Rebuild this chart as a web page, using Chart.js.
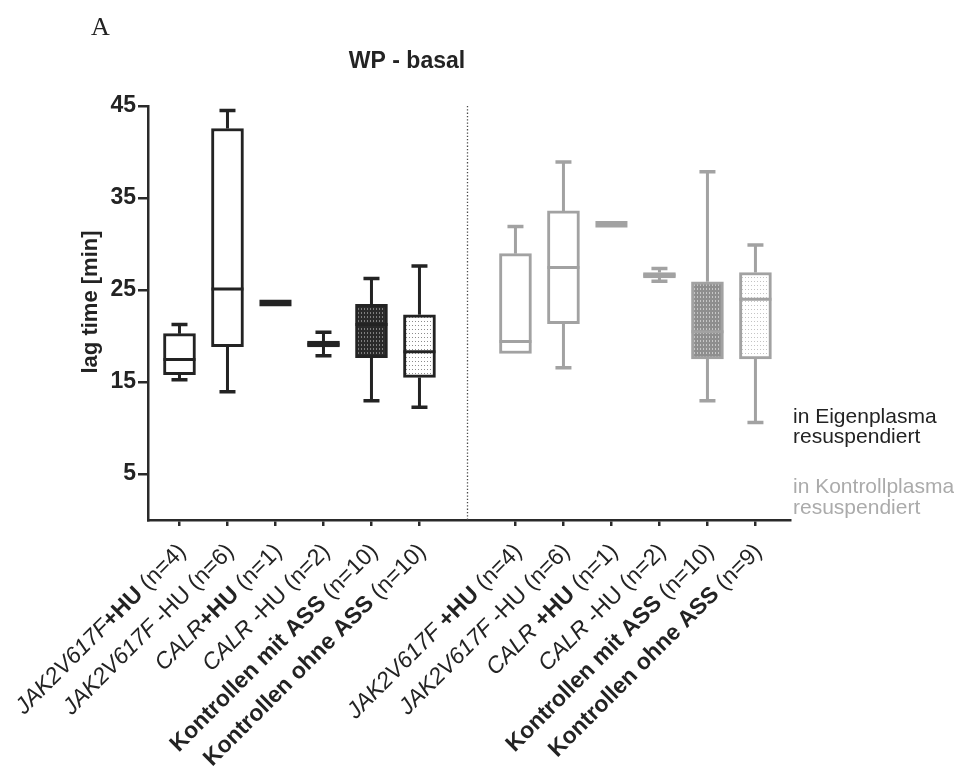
<!DOCTYPE html>
<html>
<head>
<meta charset="utf-8">
<title>WP - basal</title>
<script src="https://cdn.jsdelivr.net/npm/chart.js@4/dist/chart.umd.min.js"></script>
<style>
  html, body { margin: 0; padding: 0; background: #fff; }
  #wrap { width: 954px; height: 769px; position: relative; }
</style>
</head>
<body>
<div id="wrap"><canvas id="lagChart" width="954" height="769"></canvas></div>
<script>
// Lag time [min], box = Q1..Q3, line = median, whiskers = min/max
// Group 1: platelets resuspended in own plasma
const eigenLabels = [
    [['JAK2V617F', 'i'], ['+HU', 'b'], [' (n=4)', 'n']],
    [['JAK2V617F', 'i'], [' -HU (n=6)', 'n']],
    [['CALR', 'i'], ['+HU', 'b'], [' (n=1)', 'n']],
    [['CALR', 'i'], [' -HU (n=2)', 'n']],
    [['Kontrollen mit ASS', 'b'], [' (n=10)', 'n']],
    [['Kontrollen ohne ASS', 'b'], [' (n=10)', 'n']]
];
const eigenMin = [15.25, 13.95, 23.6, 17.85, 12.95, 12.25];
const eigenQ1  = [15.8, 18.85, 23.6, 18.8, 17.65, 15.5];
const eigenMed = [17.45, 25.1, 23.6, 19.1, 21.25, 18.3];
const eigenQ3  = [20.25, 42.55, 23.6, 19.45, 23.45, 22.3];
const eigenMax = [21.25, 44.5, 23.6, 20.4, 26.25, 27.6];

// Group 2: platelets resuspended in control plasma
const kontrollLabels = [
    [['JAK2V617F', 'i'], [' ', 'n'], ['+HU', 'b'], [' (n=4)', 'n']],
    [['JAK2V617F', 'i'], [' -HU (n=6)', 'n']],
    [['CALR', 'i'], [' ', 'n'], ['+HU', 'b'], [' (n=1)', 'n']],
    [['CALR', 'i'], [' -HU (n=2)', 'n']],
    [['Kontrollen mit ASS', 'b'], [' (n=10)', 'n']],
    [['Kontrollen ohne ASS', 'b'], [' (n=9)', 'n']]
];
const kontrollMin = [18.1, 16.55, 32.15, 25.95, 12.95, 10.6];
const kontrollQ1  = [18.1, 21.35, 32.15, 26.3, 17.5, 17.5];
const kontrollMed = [19.4, 27.45, 32.15, 26.6, 20.45, 24.0];
const kontrollQ3  = [28.95, 33.6, 32.15, 26.9, 25.9, 26.9];
const kontrollMax = [31.9, 38.9, 32.15, 27.35, 37.85, 29.9];

const yTicks = [5, 15, 25, 35, 45];

const FONT = "'Liberation Sans', Arial, Helvetica, sans-serif";
const DARK = '#232323';
const GREY = '#a2a2a2';

// slot 7 on the x scale stays empty, the dotted divider sits there
const eigenPos = eigenLabels.map((_, i) => i + 1);
const kontrollPos = kontrollLabels.map((_, i) => i + 8);
const dividerPos = 7;

function makePattern(base, dot, w, h, dots) {
    const c = document.createElement('canvas');
    c.width = w;
    c.height = h;
    const g = c.getContext('2d');
    g.fillStyle = base;
    g.fillRect(0, 0, w, h);
    g.fillStyle = dot;
    dots.forEach(([x, y, dw, dh]) => g.fillRect(x, y, dw, dh));
    return g.createPattern(c, 'repeat');
}

const denseDark = makePattern('#2a2a2a', '#7e7e7e', 3, 4, [[1, 0, 1, 2]]);
const denseGrey = makePattern('#8e8e8e', '#c6c6c6', 3, 4, [[1, 0, 1, 2]]);
const dotsDark = makePattern('#ffffff', '#8c8c8c', 3, 4, [[1, 1, 1, 1]]);
const dotsGrey = makePattern('#ffffff', '#c4c4c4', 3, 4, [[1, 1, 1, 1]]);

const eigenFill = ['#fff', '#fff', '#fff', '#fff', denseDark, dotsDark];
const kontrollFill = ['#fff', '#fff', '#fff', '#fff', denseGrey, dotsGrey];

function boxData(pos, q1, q3) {
    // single-value groups get no box, only a thick median line
    return pos.map((x, i) => ({ x: x, y: q1[i] === q3[i] ? null : [q1[i], q3[i]] }));
}

const groups = [
    { pos: eigenPos, min: eigenMin, q1: eigenQ1, med: eigenMed, q3: eigenQ3, max: eigenMax, color: DARK, labels: eigenLabels },
    { pos: kontrollPos, min: kontrollMin, q1: kontrollQ1, med: kontrollMed, q3: kontrollQ3, max: kontrollMax, color: GREY, labels: kontrollLabels }
];

const LABEL_SIZE = 23;

function labelFont(style) {
    if (style === 'b') return 'bold ' + LABEL_SIZE + 'px ' + FONT;
    if (style === 'i') return 'italic ' + LABEL_SIZE + 'px ' + FONT;
    return LABEL_SIZE + 'px ' + FONT;
}

function drawLabel(ctx, segs, x, y) {
    ctx.save();
    ctx.translate(x, y);
    ctx.rotate(-Math.PI / 4);
    ctx.textBaseline = 'middle';
    ctx.textAlign = 'left';
    ctx.fillStyle = DARK;
    let total = 0;
    segs.forEach(([t, s]) => { ctx.font = labelFont(s); total += ctx.measureText(t).width; });
    let cx = -total;
    segs.forEach(([t, s]) => {
        ctx.font = labelFont(s);
        ctx.fillText(t, cx, 0);
        cx += ctx.measureText(t).width;
    });
    ctx.restore();
}

const boxPlotExtras = {
    id: 'boxPlotExtras',
    beforeDatasetsDraw(chart) {
        const { ctx, chartArea, scales: { x } } = chart;
        const px = Math.round(x.getPixelForValue(dividerPos)) + 0.5;
        ctx.save();
        ctx.strokeStyle = '#4a4a4a';
        ctx.lineWidth = 1.3;
        ctx.setLineDash([1.3, 2]);
        ctx.beginPath();
        ctx.moveTo(px, chartArea.top);
        ctx.lineTo(px, chartArea.bottom);
        ctx.stroke();
        ctx.restore();
    },
    afterDatasetsDraw(chart) {
        const { ctx, scales: { x, y } } = chart;
        const half = 16, cap = 8;
        ctx.save();
        ctx.lineCap = 'butt';
        groups.forEach(g => {
            ctx.strokeStyle = g.color;
            g.pos.forEach((p, i) => {
                const cx = x.getPixelForValue(p);
                const yMin = y.getPixelForValue(g.min[i]);
                const yQ1 = y.getPixelForValue(g.q1[i]);
                const yMed = y.getPixelForValue(g.med[i]);
                const yQ3 = y.getPixelForValue(g.q3[i]);
                const yMax = y.getPixelForValue(g.max[i]);
                if (g.q1[i] === g.q3[i]) {
                    ctx.lineWidth = 6.5;
                    ctx.beginPath();
                    ctx.moveTo(cx - half, yMed);
                    ctx.lineTo(cx + half, yMed);
                    ctx.stroke();
                    return;
                }
                ctx.lineWidth = 3;
                ctx.beginPath();
                if (g.max[i] > g.q3[i]) {
                    ctx.moveTo(cx, yQ3);
                    ctx.lineTo(cx, yMax);
                }
                if (g.min[i] < g.q1[i]) {
                    ctx.moveTo(cx, yQ1);
                    ctx.lineTo(cx, yMin);
                }
                ctx.stroke();
                ctx.lineWidth = 3.5;
                ctx.beginPath();
                if (g.max[i] > g.q3[i]) {
                    ctx.moveTo(cx - cap, yMax);
                    ctx.lineTo(cx + cap, yMax);
                }
                if (g.min[i] < g.q1[i]) {
                    ctx.moveTo(cx - cap, yMin);
                    ctx.lineTo(cx + cap, yMin);
                }
                ctx.stroke();
                ctx.lineWidth = 3;
                ctx.beginPath();
                ctx.moveTo(cx - half, yMed);
                ctx.lineTo(cx + half, yMed);
                ctx.stroke();
            });
        });
        ctx.restore();
    },
    afterDraw(chart) {
        const { ctx, chartArea, scales: { x } } = chart;
        // rotated category labels with mixed italic / bold parts
        groups.forEach(g => {
            g.pos.forEach((p, i) => drawLabel(ctx, g.labels[i], x.getPixelForValue(p) + 3, chartArea.bottom + 28));
        });

        ctx.save();
        ctx.fillStyle = DARK;
        ctx.font = "26px 'Liberation Serif', 'Times New Roman', serif";
        ctx.textAlign = 'left';
        ctx.textBaseline = 'alphabetic';
        ctx.fillText('A', 91, 35);

        ctx.font = 'bold 23px ' + FONT;
        ctx.textAlign = 'center';
        ctx.fillText('WP - basal', 407, 68);

        ctx.save();
        ctx.translate(97, 302);
        ctx.rotate(-Math.PI / 2);
        ctx.font = 'bold 22px ' + FONT;
        ctx.textAlign = 'center';
        ctx.textBaseline = 'alphabetic';
        ctx.fillText('lag time [min]', 0, 0);
        ctx.restore();

        ctx.font = '21px ' + FONT;
        ctx.textAlign = 'left';
        const lx = chartArea.right + 3;
        ctx.fillStyle = DARK;
        ctx.fillText('in Eigenplasma', lx, 423);
        ctx.fillText('resuspendiert', lx, 443);
        ctx.fillStyle = '#ababab';
        ctx.fillText('in Kontrollplasma', lx, 493);
        ctx.fillText('resuspendiert', lx, 514);
        ctx.restore();
    }
};

const axisColor = '#2a2a2a';

new Chart(document.getElementById('lagChart'), {
    type: 'bar',
    data: {
        datasets: [
            {
                label: 'in Eigenplasma resuspendiert',
                data: boxData(eigenPos, eigenQ1, eigenQ3),
                backgroundColor: eigenFill,
                borderColor: DARK,
                borderWidth: 3,
                borderSkipped: false,
                barThickness: 32,
                grouped: false
            },
            {
                label: 'in Kontrollplasma resuspendiert',
                data: boxData(kontrollPos, kontrollQ1, kontrollQ3),
                backgroundColor: kontrollFill,
                borderColor: GREY,
                borderWidth: 3,
                borderSkipped: false,
                barThickness: 32,
                grouped: false
            }
        ]
    },
    options: {
        responsive: false,
        animation: false,
        layout: { padding: { left: 88, top: 106, right: 164, bottom: 241 } },
        plugins: {
            legend: { display: false },
            title: { display: false },
            tooltip: { enabled: false }
        },
        scales: {
            x: {
                type: 'linear',
                offset: false,
                min: 0.344,
                max: 13.72,
                afterBuildTicks: s => { s.ticks = eigenPos.concat(kontrollPos).map(v => ({ value: v })); },
                afterFit: s => { s.height = 8; s.paddingLeft = 0; s.paddingRight = 0; },
                border: { color: axisColor, width: 2.5 },
                grid: { offset: false, drawOnChartArea: false, tickLength: 6, color: axisColor, lineWidth: 2.5 },
                ticks: { display: false }
            },
            y: {
                min: 0,
                max: 45,
                afterBuildTicks: s => { s.ticks = yTicks.map(v => ({ value: v })); },
                afterFit: s => { s.width = 60; s.paddingTop = 0; s.paddingBottom = 0; },
                border: { color: axisColor, width: 2.5 },
                grid: { drawOnChartArea: false, tickLength: 10, color: axisColor, lineWidth: 2.5 },
                ticks: { color: DARK, padding: 2, font: { family: FONT, size: 23, weight: 'bold' } }
            }
        }
    },
    plugins: [boxPlotExtras]
});
</script>
</body>
</html>
